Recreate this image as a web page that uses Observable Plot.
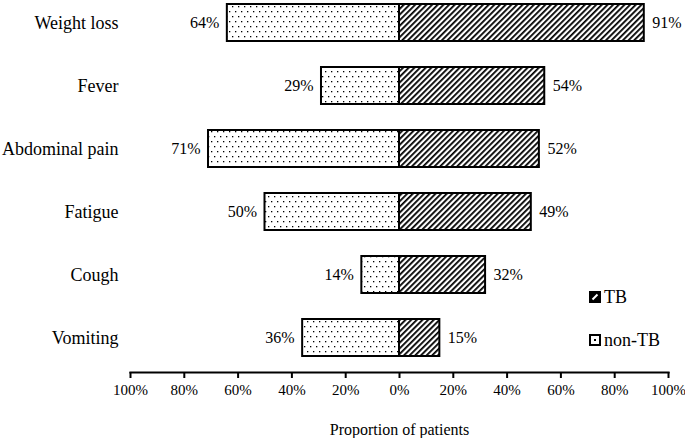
<!DOCTYPE html>
<html>
<head>
<meta charset="utf-8">
<script src="https://cdn.jsdelivr.net/npm/d3@7"></script>
<script src="https://cdn.jsdelivr.net/npm/@observablehq/plot@0.6"></script>
<style>
  html, body { margin: 0; padding: 0; background: #fff; }
  #wrap { position: relative; width: 685px; height: 438px; color: #000; }
  .leg { position: absolute; display: flex; align-items: center; font-size: 18px; line-height: 1; }
  .leg svg { margin-right: 3px; }
</style>
</head>
<body>
<div id="wrap"></div>
<script>
const categories = ["Weight loss", "Fever", "Abdominal pain", "Fatigue", "Cough", "Vomiting"];
const tbValues = [91, 54, 52, 49, 32, 15];
const nonTbValues = [64, 29, 71, 50, 14, 36];
const xTicks = [-100, -80, -60, -40, -20, 0, 20, 40, 60, 80, 100];
const seriesNames = ["TB", "non-TB"];

const FONT = "'Liberation Serif', 'Times New Roman', serif";
const data = categories.map((c, i) => ({cat: c, tb: tbValues[i], nonTb: nonTbValues[i]}));

const plot = Plot.plot({
  width: 685,
  height: 438,
  marginTop: 0,
  marginLeft: 130,
  marginRight: 17,
  marginBottom: 66,
  style: {color: "#000", background: "transparent"},
  x: {domain: [-100, 100]},
  y: {domain: categories, paddingInner: 0.42, paddingOuter: 0.02, insetTop: 1, insetBottom: 14},
  marks: [
    Plot.barX(data, {y: "cat", x1: 0, x2: d => -d.nonTb, fill: "url(#dotsPat)", stroke: "#000", strokeWidth: 2}),
    Plot.barX(data, {y: "cat", x1: 0, x2: "tb", fill: "url(#hatchPat)", stroke: "#000", strokeWidth: 2}),
    Plot.text(data, {y: "cat", x: d => -d.nonTb, text: d => d.nonTb + "%", textAnchor: "end", dx: -8, fontSize: 16, fill: "#000"}),
    Plot.text(data, {y: "cat", x: "tb", text: d => d.tb + "%", textAnchor: "start", dx: 8, fontSize: 16, fill: "#000"}),
    Plot.frame({anchor: "bottom", strokeWidth: 2.2, stroke: "#000"}),
    Plot.axisX({ticks: xTicks, tickFormat: d => Math.abs(d) + "%", tickSize: 6, tickPadding: 6, strokeWidth: 2, fontSize: 15,
      label: "Proportion of patients", labelAnchor: "center", labelArrow: "none", labelOffset: 62}),
    Plot.axisY({tickSize: 0, tickPadding: 12, fontSize: 18, label: null})
  ]
});

plot.style.fontFamily = FONT;
d3.select(plot).selectAll("g, text").each(function() {
  this.removeAttribute("font-family");
  this.style.fontFamily = FONT;
});
d3.select(plot).selectAll("text").filter(function() { return this.textContent === "Proportion of patients"; })
  .style("font-size", "16px");

// fill patterns
const svg = d3.select(plot);
const defs = svg.insert("defs", ":first-child");
const dp = defs.append("pattern").attr("id", "dotsPat").attr("patternUnits", "userSpaceOnUse")
  .attr("width", 6).attr("height", 10);
dp.append("rect").attr("width", 6).attr("height", 10).attr("fill", "#fff");
dp.append("rect").attr("x", 1).attr("y", 1).attr("width", 1.3).attr("height", 1.3).attr("fill", "#000");
dp.append("rect").attr("x", 4).attr("y", 6).attr("width", 1.3).attr("height", 1.3).attr("fill", "#000");
const hp = defs.append("pattern").attr("id", "hatchPat").attr("patternUnits", "userSpaceOnUse")
  .attr("width", 4).attr("height", 4).attr("patternTransform", "rotate(45)");
hp.append("rect").attr("width", 4).attr("height", 4).attr("fill", "#fff");
hp.append("rect").attr("x", 0).attr("y", 0).attr("width", 1.8).attr("height", 4).attr("fill", "#000");

const wrap = document.getElementById("wrap");
wrap.appendChild(plot);
plot.style.position = "absolute";
plot.style.left = "0";
plot.style.top = "0";

// legend
function addLegend(name, top, swatch) {
  const el = document.createElement("div");
  el.className = "leg";
  el.style.left = "589px";
  el.style.top = top + "px";
  el.style.fontFamily = FONT;
  el.innerHTML = swatch;
  const sp = document.createElement("span");
  sp.textContent = name;
  sp.style.fontFamily = FONT;
  el.appendChild(sp);
  wrap.appendChild(el);
}
addLegend(seriesNames[0], 288, '<svg width="12" height="12"><rect x="1" y="1" width="10" height="10" fill="#000" stroke="#000" stroke-width="2"/><line x1="3.5" y1="8.5" x2="8.5" y2="3.5" stroke="#fff" stroke-width="2"/></svg>');
addLegend(seriesNames[1], 331, '<svg width="12" height="12"><rect x="1" y="1" width="10" height="10" fill="#fff" stroke="#000" stroke-width="2"/><rect x="5" y="5" width="2" height="2" fill="#000"/></svg>');
</script>
</body>
</html>
